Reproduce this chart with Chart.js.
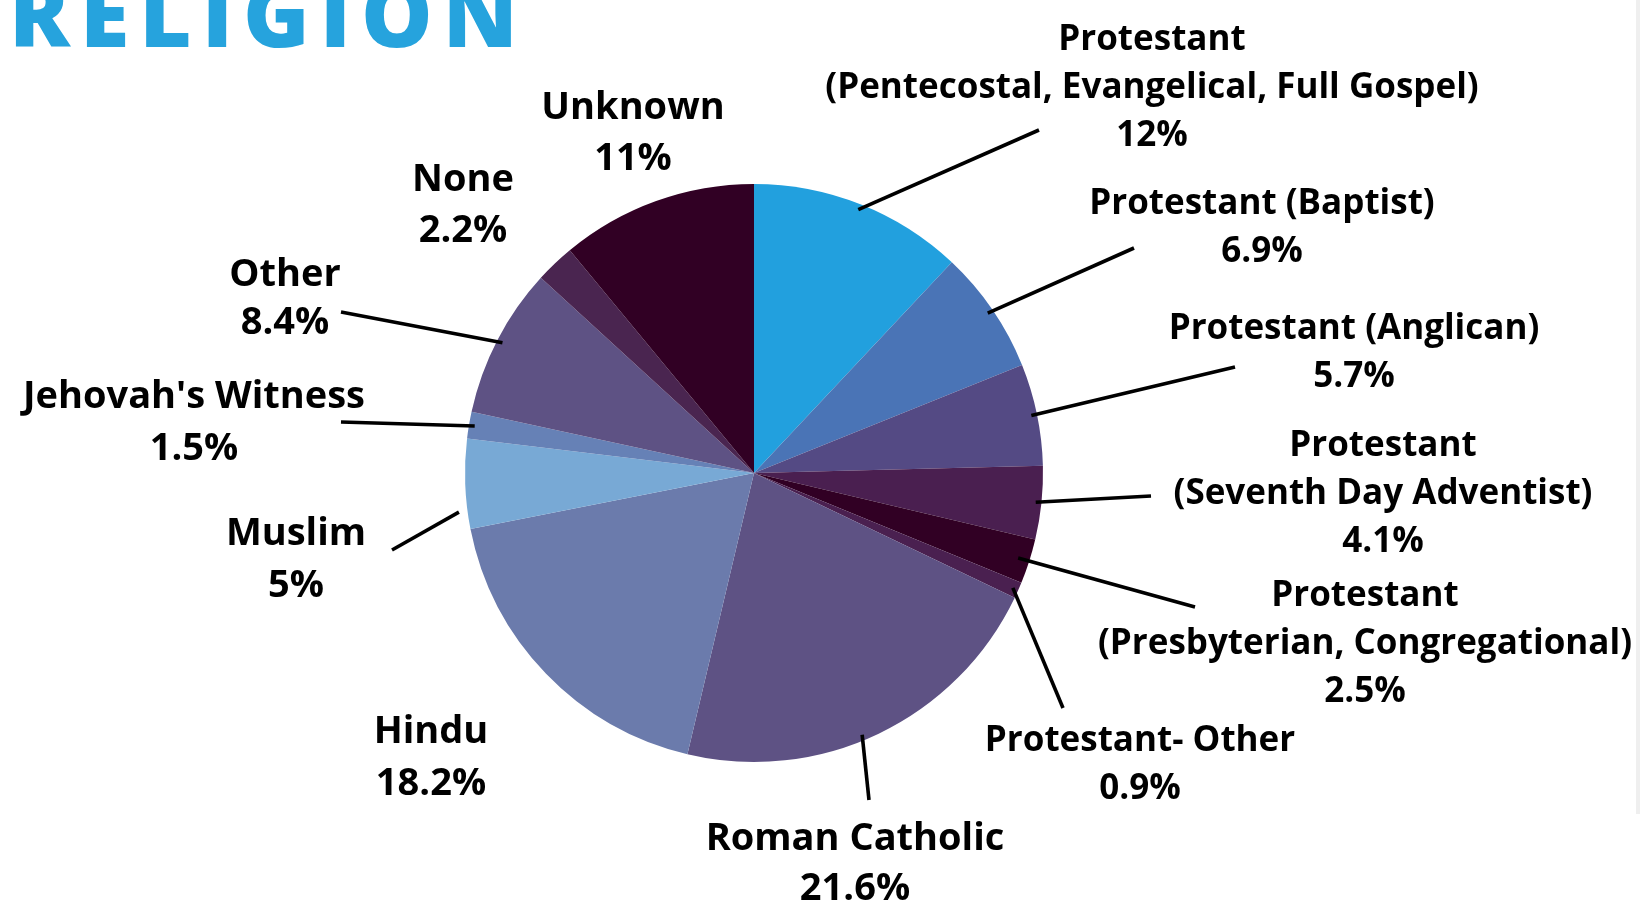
<!DOCTYPE html>
<html>
<head>
<meta charset="utf-8">
<script src="https://cdn.jsdelivr.net/npm/chart.js@4.4.1/dist/chart.umd.min.js"></script>
<style>
  html, body { margin: 0; padding: 0; background: #fff; }
  #wrap { position: relative; width: 1640px; height: 904px; }
  #edge { position: absolute; left: 1636px; top: 0; width: 4px; height: 814px; background: #efefef; }
</style>
</head>
<body>
<div id="wrap"><canvas id="religionChart" width="1640" height="904"></canvas><div id="edge"></div></div>
<script>
// slices, clockwise from 12 o'clock
const categories = [
  ["Protestant", "(Pentecostal, Evangelical, Full Gospel)"],
  ["Protestant (Baptist)"],
  ["Protestant (Anglican)"],
  ["Protestant", "(Seventh Day Adventist)"],
  ["Protestant", "(Presbyterian, Congregational)"],
  ["Protestant- Other"],
  ["Roman Catholic"],
  ["Hindu"],
  ["Muslim"],
  ["Jehovah's Witness"],
  ["Other"],
  ["None"],
  ["Unknown"],
];
const shares = [12, 6.9, 5.7, 4.1, 2.5, 0.9, 21.6, 18.2, 5, 1.5, 8.4, 2.2, 11];
const sliceColors = [
  "#22a0de", "#4a74b6", "#544a84", "#4a1f50", "#310024", "#4a2050",
  "#5e5284", "#6b7bac", "#78a9d5", "#6681b6", "#5e5284", "#4a2550", "#310024",
];

// callout layout: text centre x, first line y, line gap, font px, leader end (null = none),
// where the leader leaves the slice (fraction of its sweep, fraction of radius)
const calloutSpots = [
  { x: 1152, y: 40, gap: 48, size: 35, end: [1039, 130] },
  { x: 1262, y: 204, gap: 48, size: 35, end: [1134, 248] },
  { x: 1354, y: 329, gap: 48, size: 35, end: [1235, 367] },
  { x: 1383, y: 446, gap: 48, size: 35, end: [1151, 496] },
  { x: 1365, y: 596, gap: 48, size: 35, end: [1195, 607], at: 0.5, r: 0.96 },
  { x: 1140, y: 741, gap: 48, size: 35, end: [1063, 708] },
  { x: 855, y: 839, gap: 50, size: 38, end: [869, 800], at: 0.54 },
  { x: 431, y: 732, gap: 52, size: 38, end: null },
  { x: 296, y: 534, gap: 52, size: 38, end: [392, 550], at: 0.2, r: 1.03 },
  { x: 194, y: 397, gap: 52, size: 38, end: [341, 422] },
  { x: 285, y: 275, gap: 48, size: 38, end: [341, 312] },
  { x: 463, y: 180, gap: 51, size: 38, end: null },
  { x: 633, y: 108, gap: 51, size: 38, end: null },
];

const calloutPlugin = {
  id: "callouts",
  afterDraw(chart) {
    const ctx = chart.ctx;
    const arcs = chart.getDatasetMeta(0).data;
    ctx.save();

    // title, cut off by the top edge like the original
    ctx.font = "800 90px 'Open Sans'";
    ctx.letterSpacing = "10px";
    ctx.fillStyle = "#26a3dd";
    ctx.textAlign = "left";
    ctx.textBaseline = "alphabetic";
    ctx.fillText("RELIGION", 9, 47);
    ctx.letterSpacing = "0px";

    ctx.strokeStyle = "#000";
    ctx.lineWidth = 3.6;
    ctx.fillStyle = "#000";
    ctx.textAlign = "center";
    ctx.textBaseline = "middle";

    arcs.forEach((arc, i) => {
      const spot = calloutSpots[i];
      const p = arc.getProps(["x", "y", "startAngle", "endAngle", "outerRadius"], true);
      const ang = p.startAngle + (p.endAngle - p.startAngle) * (spot.at ?? 0.5);
      const rad = p.outerRadius * (spot.r ?? 0.98);
      if (spot.end) {
        ctx.beginPath();
        ctx.moveTo(p.x + Math.cos(ang) * rad, p.y + Math.sin(ang) * rad);
        ctx.lineTo(spot.end[0], spot.end[1]);
        ctx.stroke();
      }
      ctx.font = "700 " + spot.size + "px 'Open Sans'";
      const lines = categories[i].concat([shares[i] + "%"]);
      lines.forEach((t, k) => ctx.fillText(t, spot.x, spot.y + k * spot.gap));
    });
    ctx.restore();
  },
};

new Chart(document.getElementById("religionChart"), {
  type: "pie",
  data: {
    labels: categories,
    datasets: [
      {
        data: shares,
        backgroundColor: sliceColors,
        borderWidth: 0,
        hoverOffset: 0,
      },
    ],
  },
  options: {
    responsive: false,
    animation: false,
    layout: {
      padding: { top: 184, bottom: 142, left: 465, right: 597 },
    },
    plugins: {
      legend: { display: false },
      tooltip: { enabled: false },
    },
  },
  plugins: [calloutPlugin],
});
</script>
</body>
</html>
